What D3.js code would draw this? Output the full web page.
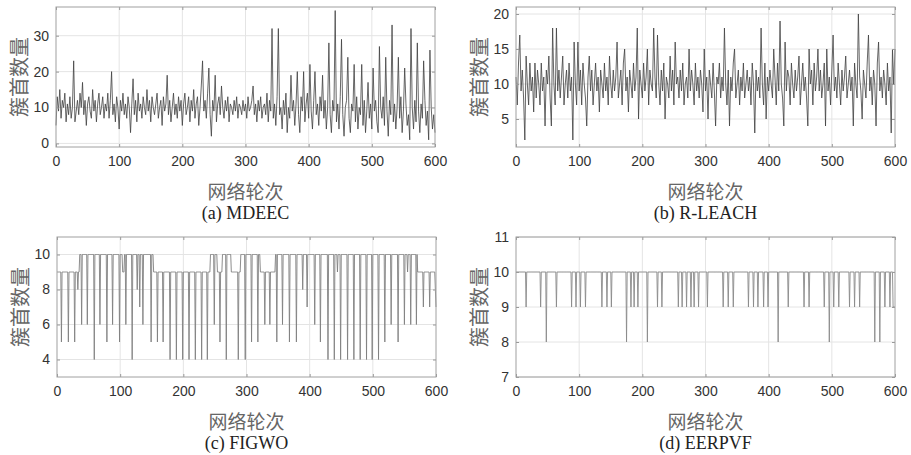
<!DOCTYPE html>
<html>
<head>
<meta charset="utf-8">
<script src="https://cdn.jsdelivr.net/npm/d3@7"></script>
<style>
  body { margin: 0; background: #fff; }
  svg { display: block; }
</style>
</head>
<body>
<svg></svg>
<script>
const WIDTH = 911;
const HEIGHT = 455;

// x axis ticks shared by all four panels
const roundTicks = [0, 100, 200, 300, 400, 500, 600];

// (a) MDEEC, one reading every 2 rounds
const mdeecValues = [
  5, 13, 9, 15, 7, 12, 10, 14, 6, 11,
  8, 13, 7, 10, 23, 6, 9, 12, 8, 14,
  10, 17, 8, 12, 5, 11, 13, 9, 7, 15,
  9, 12, 6, 11, 14, 8, 10, 13, 7, 11,
  9, 14, 7, 12, 20, 8, 11, 6, 13, 10,
  4, 12, 9, 14, 8, 11, 7, 13, 10, 3,
  11, 18, 8, 12, 6, 14, 9, 11, 7, 13,
  10, 8, 15, 9, 12, 6, 13, 10, 8, 11,
  14, 7, 10, 12, 5, 13, 9, 11, 19, 8,
  12, 6, 10, 14, 8, 11, 7, 13, 9, 12,
  5, 11, 14, 8, 10, 13, 6, 12, 9, 15,
  7, 11, 13, 5, 10, 16, 23, 9, 12, 7,
  14, 21, 8, 2, 12, 9, 19, 6, 11, 13,
  8, 16, 10, 7, 12, 9, 13, 6, 11, 10,
  8, 12, 9, 13, 7, 11, 10, 8, 12, 9,
  11, 7, 13, 9, 10, 12, 16, 8, 11, 6,
  12, 9, 13, 7, 10, 11, 8, 14, 6, 12,
  9, 32, 7, 11, 5, 13, 32, 8, 10, 4,
  12, 8, 14, 3, 10, 7, 19, 9, 12, 5,
  11, 20, 8, 3, 13, 9, 20, 6, 11, 14,
  7, 22, 9, 4, 12, 20, 8, 11, 5, 13,
  9, 19, 7, 12, 4, 10, 28, 8, 3, 12,
  9, 37, 6, 11, 4, 13, 29, 8, 2, 10,
  12, 24, 7, 3, 11, 9, 22, 6, 13, 4,
  10, 8, 22, 5, 12, 3, 9, 17, 7, 11,
  4, 21, 9, 12, 6, 3, 27, 10, 7, 13,
  5, 24, 9, 2, 12, 8, 33, 6, 11, 4,
  10, 24, 7, 13, 3, 9, 21, 11, 5, 8,
  1, 32, 10, 4, 12, 6, 28, 9, 3, 11,
  7, 23, 12, 5, 9, 1, 26, 10, 4, 8,
  3
];

// (b) R-LEACH, one reading every 2 rounds
const rleachValues = [
  11, 7, 13, 17, 9, 12, 8, 2, 14, 10,
  7, 13, 9, 11, 6, 13, 8, 12, 10, 7,
  13, 9, 11, 4, 12, 10, 14, 8, 4, 18,
  10, 7, 18, 9, 12, 8, 11, 14, 7, 10,
  12, 8, 13, 9, 11, 2, 16, 10, 7, 16,
  9, 12, 7, 13, 10, 8, 4, 11, 14, 9,
  12, 7, 10, 13, 9, 11, 6, 12, 10, 8,
  13, 9, 11, 7, 14, 10, 8, 12, 9, 11,
  16, 8, 10, 12, 7, 13, 15, 9, 11, 6,
  12, 10, 8, 13, 9, 11, 18, 5, 12, 10,
  8, 13, 9, 11, 15, 7, 12, 10, 9, 18,
  11, 8, 17, 10, 7, 12, 9, 13, 5, 11,
  10, 8, 14, 9, 12, 7, 16, 10, 11, 8,
  12, 9, 13, 7, 10, 11, 8, 15, 9, 12,
  10, 7, 13, 9, 11, 8, 12, 10, 6, 15,
  9, 11, 5, 12, 10, 8, 13, 9, 4, 11,
  10, 13, 8, 11, 9, 18, 10, 7, 12, 4,
  11, 9, 13, 15, 8, 10, 12, 7, 11, 9,
  13, 8, 10, 12, 9, 11, 7, 13, 10, 3,
  12, 9, 11, 8, 18, 10, 7, 13, 5, 11,
  9, 12, 10, 8, 15, 11, 7, 13, 9, 19,
  10, 8, 4, 16, 9, 12, 11, 7, 13, 10,
  8, 12, 9, 11, 14, 7, 10, 13, 9, 11,
  8, 4, 15, 10, 12, 7, 13, 9, 11, 15,
  9, 12, 8, 10, 13, 4, 15, 9, 11, 7,
  12, 17, 9, 11, 8, 13, 10, 7, 12, 9,
  11, 14, 8, 10, 12, 9, 11, 4, 13, 10,
  8, 20, 11, 9, 5, 12, 10, 8, 13, 17,
  9, 11, 7, 12, 10, 4, 13, 16, 9, 11,
  8, 12, 10, 7, 13, 9, 11, 3, 15, 10,
  15
];

// (c) FIGWO: plateau levels and one-round dips
const figwoLevelStarts = [0, 36, 104, 107, 153, 243, 254, 262, 276, 291, 322, 346, 571, 576];
const figwoLevels = [9, 10, 9, 10, 9, 10, 9, 10, 9, 10, 9, 10, 9, 9];
const figwoDipRounds = [
  7, 18, 28, 33, 39, 48, 59, 68, 79, 88, 99, 109, 119, 127, 131, 136, 149,
  159, 168, 179, 189, 199, 209, 219, 229, 238, 249, 258, 268, 287, 298, 308,
  318, 329, 337, 348, 357, 368, 379, 389, 396, 408, 417, 429, 439, 444, 449,
  460, 470, 480, 490, 499, 509, 519, 529, 540, 550, 555, 560, 569, 580, 590, 599, 600
];
const figwoDipValues = [
  5, 5, 5, 8, 6, 6, 4, 6, 5, 6, 5, 6, 4, 8, 7, 6, 5,
  5, 5, 4, 4, 4, 4, 4, 4, 4, 6, 5, 4, 4, 4, 5,
  5, 6, 6, 5, 6, 5, 5, 8, 7, 6, 5, 4, 4, 9, 4,
  4, 4, 4, 4, 4, 4, 5, 6, 5, 6, 9, 6, 6, 7, 7, 8, 7
];

// (d) EERPVF: steady level with short dips
const eerpvfLevel = 10;
const eerpvfDipRounds = [
  16, 39, 48, 64, 88, 95, 102, 110, 136, 144, 151, 175, 182, 187, 193, 208,
  224, 231, 257, 263, 270, 277, 282, 289, 303, 328, 336, 344, 368, 376, 383,
  392, 399, 415, 431, 456, 464, 488, 496, 503, 511, 528, 536, 544, 568, 576,
  584, 592, 597, 598, 599, 600
];
const eerpvfDipValues = [
  9, 9, 8, 9, 9, 9, 9, 9, 9, 9, 9, 8, 9, 9, 9, 8,
  9, 9, 9, 9, 9, 9, 9, 9, 9, 9, 9, 9, 9, 9, 9,
  9, 9, 8, 9, 9, 9, 9, 8, 9, 9, 9, 9, 9, 8, 8,
  9, 9, 9, 9, 9, 9
];

function levelSeries(starts, levels, dipRounds, dipValues) {
  const dips = new Map(dipRounds.map((r, i) => [r, dipValues[i]]));
  return d3.range(0, 601).map((r) => {
    const k = d3.bisectRight(starts, r) - 1;
    return [r, dips.has(r) ? dips.get(r) : levels[k]];
  });
}

const panels = [
  {
    title: '(a) MDEEC', x0: 56, x1: 435, y0: 7, y1: 147,
    yDomain: [-1, 38], yTicks: [0, 10, 20, 30],
    points: mdeecValues.map((v, i) => [i * 2, v]),
    stroke: '#404040', width: 0.8,
  },
  {
    title: '(b) R-LEACH', x0: 516, x1: 895, y0: 7, y1: 147,
    yDomain: [1, 21], yTicks: [5, 10, 15, 20],
    points: rleachValues.map((v, i) => [i * 2, v]),
    stroke: '#404040', width: 0.8,
  },
  {
    title: '(c) FIGWO', x0: 57, x1: 436, y0: 237, y1: 377,
    yDomain: [3, 11], yTicks: [4, 6, 8, 10],
    points: levelSeries(figwoLevelStarts, figwoLevels, figwoDipRounds, figwoDipValues),
    stroke: '#808080', width: 0.9,
  },
  {
    title: '(d) EERPVF', x0: 516, x1: 895, y0: 237, y1: 377,
    yDomain: [7, 11], yTicks: [7, 8, 9, 10, 11],
    points: levelSeries([0], [eerpvfLevel], eerpvfDipRounds, eerpvfDipValues),
    stroke: '#8a8a8a', width: 0.9,
  },
];

function drawPanel(svg, p) {
  const x = d3.scaleLinear().domain([0, 600]).range([p.x0, p.x1]);
  const y = d3.scaleLinear().domain(p.yDomain).range([p.y1, p.y0]);
  const g = svg.append('g');

  // grid
  g.append('g')
    .selectAll('line')
    .data(roundTicks.slice(1, -1))
    .join('line')
      .attr('x1', (d) => x(d)).attr('x2', (d) => x(d))
      .attr('y1', p.y0).attr('y2', p.y1)
      .attr('stroke', '#e4e4e4').attr('stroke-width', 1);
  g.append('g')
    .selectAll('line')
    .data(p.yTicks)
    .join('line')
      .attr('x1', p.x0).attr('x2', p.x1)
      .attr('y1', (d) => y(d)).attr('y2', (d) => y(d))
      .attr('stroke', '#e4e4e4').attr('stroke-width', 1);

  // data line
  const line = d3.line().x((d) => x(d[0])).y((d) => y(d[1]));
  g.append('path')
    .datum(p.points)
    .attr('d', line)
    .attr('fill', 'none')
    .attr('stroke', p.stroke)
    .attr('stroke-width', p.width);

  // axes, matlab style ticks inside
  const axisStyle = (sel) => {
    sel.select('.domain').remove();
    sel.selectAll('.tick line').attr('stroke', '#999');
    sel.selectAll('.tick text')
      .attr('fill', '#333')
      .style('font-family', '"Liberation Sans", Arial, sans-serif')
      .style('font-size', '14px');
  };
  const fmt = d3.format('d');
  g.append('g')
    .attr('transform', `translate(0,${p.y1})`)
    .call(d3.axisBottom(x).tickValues(roundTicks).tickFormat(fmt)
      .tickSizeInner(-3).tickSizeOuter(0).tickPadding(9))
    .call(axisStyle);
  g.append('g')
    .attr('transform', `translate(${p.x0},0)`)
    .call(d3.axisLeft(y).tickValues(p.yTicks).tickFormat(fmt)
      .tickSizeInner(-3).tickSizeOuter(0).tickPadding(7))
    .call(axisStyle);
  g.append('g')
    .attr('transform', `translate(${p.x1},0)`)
    .call(d3.axisRight(y).tickValues(p.yTicks).tickSizeInner(-3).tickSizeOuter(0).tickFormat(''))
    .call(axisStyle);
  g.append('g')
    .attr('transform', `translate(0,${p.y0})`)
    .call(d3.axisTop(x).tickValues(roundTicks).tickSizeInner(-3).tickSizeOuter(0).tickFormat(''))
    .call(axisStyle);

  g.append('rect')
    .attr('x', p.x0).attr('y', p.y0)
    .attr('width', p.x1 - p.x0).attr('height', p.y1 - p.y0)
    .attr('fill', 'none').attr('stroke', '#a0a0a0').attr('stroke-width', 1);

  const cx = (p.x0 + p.x1) / 2;
  g.append('text')
    .attr('x', cx).attr('y', p.y1 + 52)
    .attr('text-anchor', 'middle')
    .attr('fill', '#666')
    .style('font-family', '"Noto Sans CJK SC", sans-serif')
    .style('font-size', '19px')
    .text('网络轮次');
  g.append('text')
    .attr('x', cx).attr('y', p.y1 + 72)
    .attr('text-anchor', 'middle')
    .attr('fill', '#222')
    .style('font-family', '"Liberation Serif", "Times New Roman", serif')
    .style('font-size', '18px')
    .text(p.title);
  g.append('text')
    .attr('transform', `translate(${p.x0 - 29},${(p.y0 + p.y1) / 2}) rotate(-90)`)
    .attr('text-anchor', 'middle')
    .attr('fill', '#666')
    .style('font-family', '"Noto Sans CJK SC", sans-serif')
    .style('font-size', '20px')
    .text('簇首数量');
}

window.onload = () => {
  const svg = d3.select('svg')
      .attr('width', WIDTH)
      .attr('height', HEIGHT);
  panels.forEach((p) => drawPanel(svg, p));
};
</script>
</body>
</html>
